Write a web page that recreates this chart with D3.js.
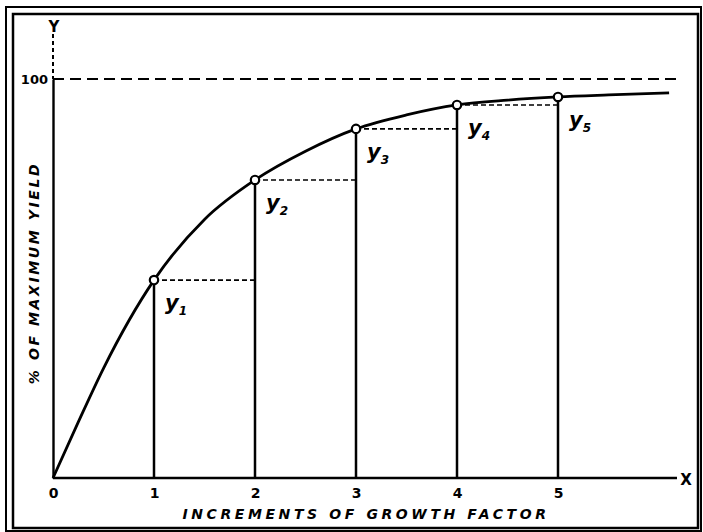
<!DOCTYPE html>
<html><head><meta charset="utf-8">
<script src="https://cdn.jsdelivr.net/npm/d3@7"></script>
<style>html,body{margin:0;padding:0;background:#fff;}svg{display:block;}</style>
</head><body>
<script>
// Data
const incrementX = [1, 2, 3, 4, 5];
const yieldPct = [49.6, 74.7, 87.5, 93.5, 95.5];
const pointLabels = ["1", "2", "3", "4", "5"];
const curveX = [0, 0.25, 0.5, 1, 1.5, 2, 2.5, 3, 3.5, 4, 4.5, 5, 5.5, 6.1];
const curveY = [0, 14, 27.5, 49.6, 64.8, 74.7, 81.9, 87.5, 91, 93.5, 94.7, 95.5, 96, 96.5];
const xTickValues = [0, 1, 2, 3, 4, 5];
const xTickLabels = ["0", "1", "2", "3", "4", "5"];
const yTickValues = [100];
const yTickLabels = ["100"];
const xTitle = "INCREMENTS OF GROWTH FACTOR";
const yTitle = "% OF MAXIMUM YIELD";

const W = 703, H = 532;
const svg = d3.select("body").append("svg").attr("width", W).attr("height", H);
const x = d3.scaleLinear().domain([0, 5]).range([53, 558]);
const y = d3.scaleLinear().domain([0, 100]).range([478, 79]);
const ink = "#000";
const font = "'DejaVu Sans', sans-serif";

// frames
svg.append("rect").attr("x", 6).attr("y", 7).attr("width", 695).attr("height", 524)
  .attr("fill", "none").attr("stroke", ink).attr("stroke-width", 2);
svg.append("rect").attr("x", 13).attr("y", 14).attr("width", 685).attr("height", 514)
  .attr("fill", "none").attr("stroke", ink).attr("stroke-width", 2.5);

// 100% dashed line
svg.append("line").attr("x1", x(0)).attr("x2", 677).attr("y1", y(100)).attr("y2", y(100))
  .attr("stroke", ink).attr("stroke-width", 2.2).attr("stroke-dasharray", "11,6");

// y axis: dashed above 100, solid below
svg.append("line").attr("x1", x(0)).attr("x2", x(0)).attr("y1", 34).attr("y2", y(100))
  .attr("stroke", ink).attr("stroke-width", 2).attr("stroke-dasharray", "4,3");
const yAxis = d3.axisLeft(y).tickValues(yTickValues).tickFormat((d, i) => yTickLabels[i]).tickSize(0).tickPadding(5);
const gy = svg.append("g").attr("transform", `translate(${x(0)},0)`).call(yAxis);
gy.select(".domain").attr("stroke", ink).attr("stroke-width", 2.4);
gy.selectAll("text").attr("font-family", font).attr("font-weight", "bold").attr("font-size", 13).attr("fill", ink);

// x axis
const xAxis = d3.axisBottom(x).tickValues(xTickValues).tickFormat((d, i) => xTickLabels[i]).tickSize(0).tickPadding(10);
const gx = svg.append("g").attr("transform", `translate(0,${y(0)})`).call(xAxis);
gx.select(".domain").attr("stroke", ink).attr("stroke-width", 2.4).attr("d", `M${x(0)},0H677`);
gx.selectAll("text").attr("font-family", font).attr("font-weight", "bold").attr("font-size", 14).attr("fill", ink);

// axis letters
svg.append("text").attr("x", x(0) + 1).attr("y", 32).attr("text-anchor", "middle")
  .attr("font-family", font).attr("font-weight", "bold").attr("font-size", 15).text("Y");
svg.append("text").attr("x", 686).attr("y", 485).attr("text-anchor", "middle")
  .attr("font-family", font).attr("font-weight", "bold").attr("font-size", 15).text("X");

// titles
svg.append("text").attr("x", 366).attr("y", 519).attr("text-anchor", "middle")
  .attr("font-family", font).attr("font-weight", "bold").attr("font-style", "italic")
  .attr("font-size", 14).attr("letter-spacing", 3.6).text(xTitle);
svg.append("text").attr("transform", "translate(39,273) rotate(-90)").attr("text-anchor", "middle")
  .attr("font-family", font).attr("font-weight", "bold").attr("font-style", "italic")
  .attr("font-size", 14).attr("letter-spacing", 2.6).text(yTitle);

// vertical lines from points to x axis
svg.selectAll("line.vert").data(incrementX).enter().append("line").attr("class", "vert")
  .attr("x1", d => x(d)).attr("x2", d => x(d))
  .attr("y1", (d, i) => y(yieldPct[i])).attr("y2", y(0))
  .attr("stroke", ink).attr("stroke-width", 2.5);

// horizontal dashed lines to next increment
svg.selectAll("line.hdash").data(incrementX.slice(0, -1)).enter().append("line").attr("class", "hdash")
  .attr("x1", d => x(d)).attr("x2", (d, i) => x(incrementX[i + 1]))
  .attr("y1", (d, i) => y(yieldPct[i])).attr("y2", (d, i) => y(yieldPct[i]))
  .attr("stroke", ink).attr("stroke-width", 1.6).attr("stroke-dasharray", "5,3");

// curve
const line = d3.line().x(d => x(d[0])).y(d => y(d[1])).curve(d3.curveMonotoneX);
svg.append("path").datum(curveX.map((v, i) => [v, curveY[i]]))
  .attr("d", line).attr("fill", "none").attr("stroke", ink).attr("stroke-width", 2.8);

// point circles
svg.selectAll("circle.pt").data(incrementX).enter().append("circle").attr("class", "pt")
  .attr("cx", d => x(d)).attr("cy", (d, i) => y(yieldPct[i])).attr("r", 4.2)
  .attr("fill", "#fff").attr("stroke", ink).attr("stroke-width", 2.2);

// point labels y1..y5
const lab = svg.selectAll("text.pl").data(incrementX).enter().append("text").attr("class", "pl")
  .attr("x", d => x(d) + 11).attr("y", (d, i) => y(yieldPct[i]) + 30)
  .attr("font-family", font).attr("font-weight", "bold").attr("font-style", "italic")
  .attr("font-size", 21).attr("fill", ink);
lab.append("tspan").text("y");
lab.append("tspan").attr("font-size", 12).attr("dy", 5).text((d, i) => pointLabels[i]);
</script>
</body></html>
